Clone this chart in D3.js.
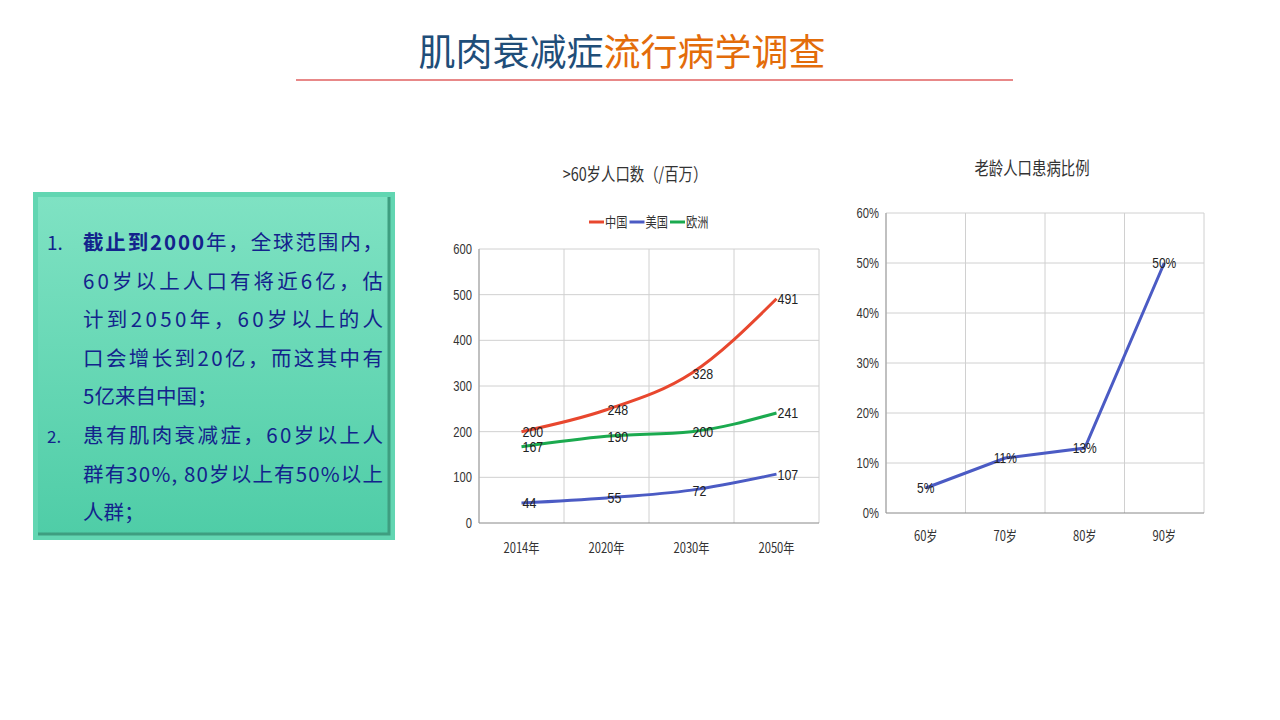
<!DOCTYPE html>
<html>
<head>
<meta charset="utf-8">
<script src="https://cdn.jsdelivr.net/npm/d3@7"></script>
<style>
  body { margin: 0; background: #fff; }
  svg text { font-family: "Noto Sans CJK SC", "Liberation Sans", sans-serif; }
</style>
</head>
<body>
<svg id="slide" width="1280" height="720"></svg>
<script>
// Data
const years = ["2014年", "2020年", "2030年", "2050年"];
const china = [200, 248, 328, 491];
const usa = [44, 55, 72, 107];
const europe = [167, 190, 200, 241];
const seriesNames = ["中国", "美国", "欧洲"];
const seriesColors = ["#E8472E", "#4B5BC4", "#1BAA4F"];
const popTicks = [0, 100, 200, 300, 400, 500, 600];

const ages = ["60岁", "70岁", "80岁", "90岁"];
const rates = [0.05, 0.11, 0.13, 0.50];
const rateTicks = [0, 0.1, 0.2, 0.3, 0.4, 0.5, 0.6];

const boxLines = [
  "截止到2000年，全球范围内，",
  "60岁以上人口有将近6亿，估",
  "计到2050年，60岁以上的人",
  "口会增长到20亿，而这其中有",
  "5亿来自中国；",
  "患有肌肉衰减症，60岁以上人",
  "群有30%, 80岁以上有50%以上",
  "人群；"
];
const justified = [true, true, true, true, false, true, true, false];

const svg = d3.select("svg#slide");

// Title
const title = svg.append("text")
  .attr("x", 622)
  .attr("y", 66)
  .attr("text-anchor", "middle")
  .style("font-size", "37px");
title.append("tspan").attr("fill", "#1F4E79").text("肌肉衰减症");
title.append("tspan").attr("fill", "#E36C0A").text("流行病学调查");

svg.append("line")
  .attr("x1", 296).attr("x2", 1013)
  .attr("y1", 80).attr("y2", 80)
  .attr("stroke", "#E06060")
  .attr("stroke-width", 1.5);

// Text box
const defs = svg.append("defs");
const grad = defs.append("linearGradient")
  .attr("id", "boxGrad")
  .attr("x1", 0).attr("y1", 0).attr("x2", 0).attr("y2", 1);
grad.append("stop").attr("offset", "0%").attr("stop-color", "#7FE2C3");
grad.append("stop").attr("offset", "100%").attr("stop-color", "#4FCDA7");

svg.append("rect")
  .attr("x", 33).attr("y", 192)
  .attr("width", 362).attr("height", 348)
  .attr("fill", "#62D6B2");
svg.append("rect")
  .attr("x", 38).attr("y", 197)
  .attr("width", 351).attr("height", 337)
  .attr("fill", "url(#boxGrad)");
svg.append("path")
  .attr("d", "M389,197 L389,534 L38,534")
  .attr("fill", "none")
  .attr("stroke", "#3E9E80")
  .attr("stroke-width", 3);

const box = svg.append("g").attr("fill", "#13238C");
box.append("text").attr("x", 47).attr("y", 250).style("font-size", "19px").text("1.");
box.append("text").attr("x", 47).attr("y", 443).style("font-size", "17px").text("2.");

boxLines.forEach((t, i) => {
  const txt = box.append("text")
    .attr("x", 83)
    .attr("y", 250 + i * 38.6)
    .style("font-size", "20.5px");
  if (justified[i]) txt.attr("textLength", 300).attr("lengthAdjust", "spacing");
  if (i === 0) {
    txt.append("tspan").style("font-weight", "bold").text("截止到2000");
    txt.append("tspan").text(t.replace("截止到2000", ""));
  } else {
    txt.text(t);
  }
});

// squeeze chart texts horizontally like the original picture
function squeeze(sel) {
  sel.each(function () {
    const t = d3.select(this);
    const x = +t.attr("x") || 0;
    const y = +t.attr("y") || 0;
    t.attr("x", 0).attr("y", 0)
      .attr("transform", "translate(" + x + "," + y + ") scale(0.8,1)");
  });
}

// Chart 1: population > 60
const c1 = svg.append("g");
const x1 = d3.scaleBand().domain(years).range([479, 819]);
const y1 = d3.scaleLinear().domain([0, 600]).range([523, 249]);

c1.append("text")
  .attr("x", 635).attr("y", 181)
  .attr("text-anchor", "middle")
  .attr("fill", "#333")
  .style("font-size", "18px")
  .text(">60岁人口数（/百万）")
  .call(squeeze);

// gridlines
c1.selectAll("line.hgrid")
  .data(popTicks.slice(1))
  .join("line")
  .attr("x1", 479).attr("x2", 819)
  .attr("y1", d => y1(d)).attr("y2", d => y1(d))
  .attr("stroke", "#D0D0D0");
c1.selectAll("line.vgrid")
  .data(years.map(d => x1(d)).concat([819]))
  .join("line")
  .attr("x1", d => d).attr("x2", d => d)
  .attr("y1", 249).attr("y2", 523)
  .attr("stroke", "#D0D0D0");
c1.append("line")
  .attr("x1", 479).attr("x2", 819).attr("y1", 523).attr("y2", 523)
  .attr("stroke", "#888");
c1.append("line")
  .attr("x1", 479).attr("x2", 479).attr("y1", 249).attr("y2", 523)
  .attr("stroke", "#999");

c1.selectAll("text.ytick")
  .data(popTicks)
  .join("text")
  .attr("x", 472).attr("y", d => y1(d) + 5)
  .attr("text-anchor", "end")
  .attr("fill", "#333")
  .style("font-size", "14px")
  .style("font-family", "Liberation Sans")
  .text(d => d)
  .call(squeeze);

c1.selectAll("text.xtick")
  .data(years)
  .join("text")
  .attr("x", d => x1(d) + x1.bandwidth() / 2).attr("y", 553)
  .attr("text-anchor", "middle")
  .attr("fill", "#333")
  .style("font-size", "14px")
  .text(d => d)
  .call(squeeze);

const line1 = d3.line()
  .x((d, i) => x1(years[i]) + x1.bandwidth() / 2)
  .y(d => y1(d))
  .curve(d3.curveMonotoneX);

[china, usa, europe].forEach((vals, k) => {
  c1.append("path")
    .datum(vals)
    .attr("d", line1)
    .attr("fill", "none")
    .attr("stroke", seriesColors[k])
    .attr("stroke-width", 3);
  c1.selectAll("text.lab" + k)
    .data(vals)
    .join("text")
    .attr("x", (d, i) => x1(years[i]) + x1.bandwidth() / 2 + 1)
    .attr("y", d => y1(d) + 5.5)
    .attr("fill", "#222")
    .style("font-size", "15.5px")
    .style("font-family", "Liberation Sans")
    .text(d => d)
    .call(squeeze);
});

// legend
const legend = c1.append("g");
seriesNames.forEach((n, k) => {
  const lx = 589 + k * 40.5;
  legend.append("line")
    .attr("x1", lx).attr("x2", lx + 15)
    .attr("y1", 222).attr("y2", 222)
    .attr("stroke", seriesColors[k])
    .attr("stroke-width", 3);
  legend.append("text")
    .attr("x", lx + 16).attr("y", 227)
    .attr("fill", "#333")
    .style("font-size", "14px")
    .text(n)
    .call(squeeze);
});

// Chart 2: prevalence
const c2 = svg.append("g");
const x2 = d3.scaleBand().domain(ages).range([886, 1204]);
const y2 = d3.scaleLinear().domain([0, 0.6]).range([513, 213]);

c2.append("text")
  .attr("x", 1032).attr("y", 175)
  .attr("text-anchor", "middle")
  .attr("fill", "#333")
  .style("font-size", "18px")
  .text("老龄人口患病比例")
  .call(squeeze);

c2.selectAll("line.hgrid")
  .data(rateTicks.slice(1))
  .join("line")
  .attr("x1", 886).attr("x2", 1204)
  .attr("y1", d => y2(d)).attr("y2", d => y2(d))
  .attr("stroke", "#D0D0D0");
c2.selectAll("line.vgrid")
  .data(ages.map(d => x2(d)).concat([1204]))
  .join("line")
  .attr("x1", d => d).attr("x2", d => d)
  .attr("y1", 213).attr("y2", 513)
  .attr("stroke", "#D0D0D0");
c2.append("line")
  .attr("x1", 886).attr("x2", 1204).attr("y1", 513).attr("y2", 513)
  .attr("stroke", "#888");
c2.append("line")
  .attr("x1", 886).attr("x2", 886).attr("y1", 213).attr("y2", 513)
  .attr("stroke", "#999");

c2.selectAll("text.ytick")
  .data(rateTicks)
  .join("text")
  .attr("x", 879).attr("y", d => y2(d) + 5)
  .attr("text-anchor", "end")
  .attr("fill", "#333")
  .style("font-size", "14px")
  .style("font-family", "Liberation Sans")
  .text(d3.format(".0%"))
  .call(squeeze);

c2.selectAll("text.xtick")
  .data(ages)
  .join("text")
  .attr("x", d => x2(d) + x2.bandwidth() / 2).attr("y", 541)
  .attr("text-anchor", "middle")
  .attr("fill", "#333")
  .style("font-size", "14px")
  .text(d => d)
  .call(squeeze);

const line2 = d3.line()
  .x((d, i) => x2(ages[i]) + x2.bandwidth() / 2)
  .y(d => y2(d));

c2.append("path")
  .datum(rates)
  .attr("d", line2)
  .attr("fill", "none")
  .attr("stroke", "#4B5BC4")
  .attr("stroke-width", 3);

c2.selectAll("text.lab")
  .data(rates)
  .join("text")
  .attr("x", (d, i) => x2(ages[i]) + x2.bandwidth() / 2)
  .attr("y", d => y2(d) + 5)
  .attr("text-anchor", "middle")
  .attr("fill", "#222")
  .style("font-size", "15px")
  .style("font-family", "Liberation Sans")
  .text(d3.format(".0%"))
  .call(squeeze);
</script>
</body>
</html>
